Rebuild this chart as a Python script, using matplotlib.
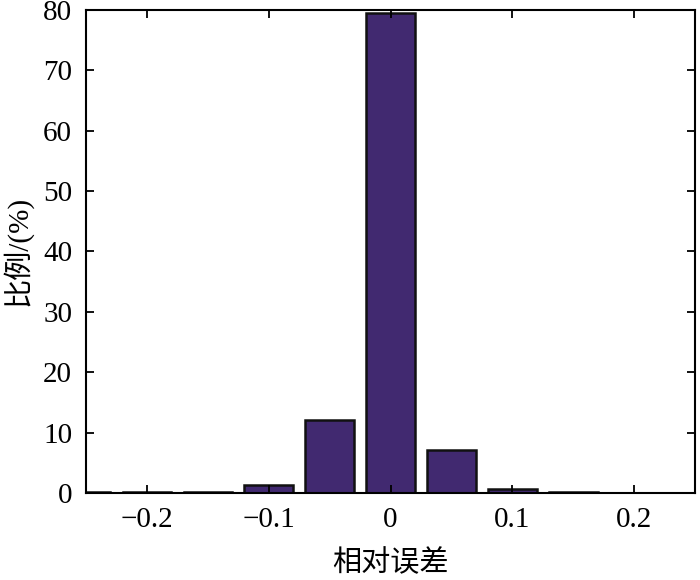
import matplotlib.pyplot as plt

plt.rcParams['font.family'] = ['Liberation Serif', 'Noto Sans CJK SC']
plt.rcParams['axes.unicode_minus'] = True

centers = [-0.25, -0.2, -0.15, -0.1, -0.05, 0.0, 0.05, 0.1, 0.15]
ratio = [0.2, 0.2, 0.15, 1.3, 12.1, 79.4, 7.1, 0.7, 0.2]
xticks = [-0.2, -0.1, 0, 0.1, 0.2]
xtick_labels = ['\u22120.2', '\u22120.1', '0', '0.1', '0.2']
yticks = [0, 10, 20, 30, 40, 50, 60, 70, 80]

fig = plt.figure(figsize=(7, 5.8), dpi=100)
ax = fig.add_axes([0.123, 0.15, 0.870, 0.833])

ax.bar(centers, ratio, width=0.04, color='#412970', edgecolor='#111111', linewidth=1.8)

ax.set_xlim(-0.25, 0.25)
ax.set_ylim(0, 80)
ax.set_xticks(xticks)
ax.set_xticklabels(xtick_labels)
ax.set_yticks(yticks)
ax.tick_params(direction='in', length=6, width=1.3, top=True, right=True,
               labelsize=21, pad=10)
for s in ax.spines.values():
    s.set_linewidth(1.5)

ax.set_xlabel('相对误差', fontsize=21, labelpad=12)
ax.set_ylabel('比例/(%)', fontsize=21, labelpad=8)

fig.savefig('out.png', dpi=100)
